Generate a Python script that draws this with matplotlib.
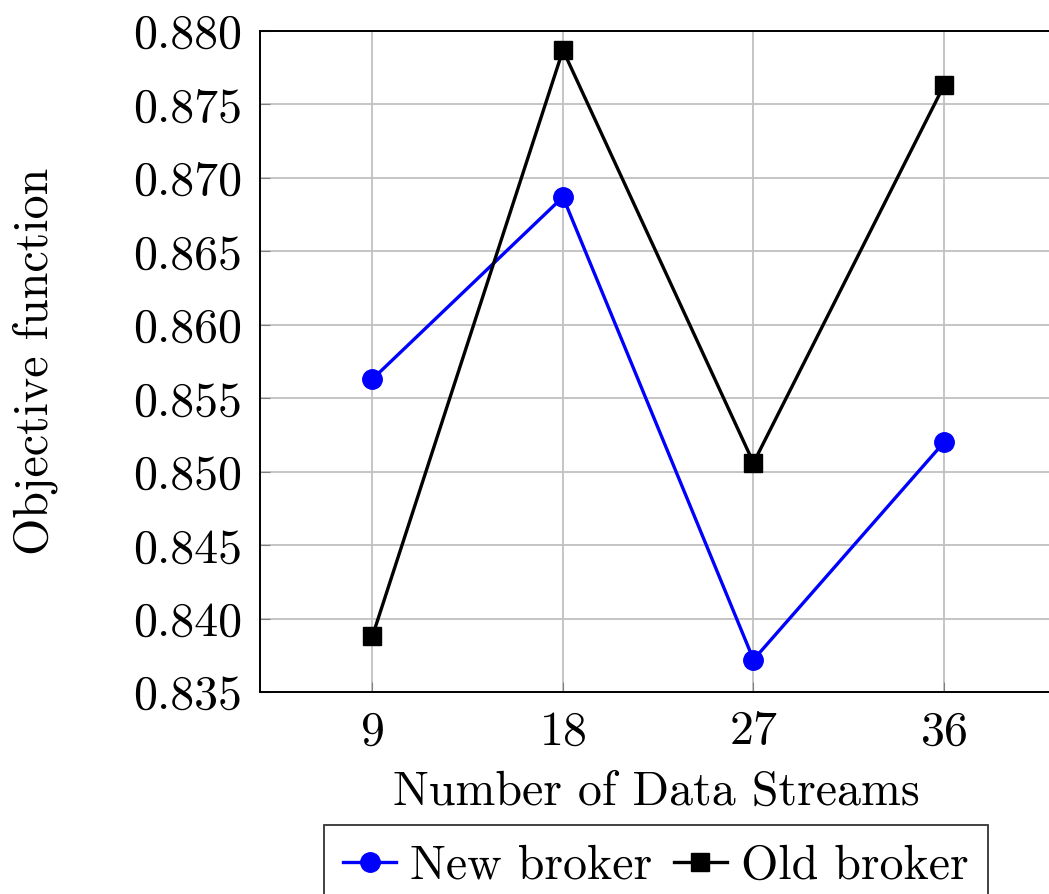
import matplotlib.pyplot as plt

plt.rcParams['font.family'] = 'cmr10'
plt.rcParams['axes.formatter.use_mathtext'] = True
plt.rcParams['mathtext.fontset'] = 'cm'

streams = [9, 18, 27, 36]
new_broker = [0.8563, 0.8687, 0.8372, 0.8520]
old_broker = [0.8388, 0.8787, 0.8506, 0.8763]
y_ticks = [0.835, 0.840, 0.845, 0.850, 0.855, 0.860, 0.865, 0.870, 0.875, 0.880]

fig = plt.figure(figsize=(10.49, 8.94), dpi=100)
ax = fig.add_axes([260 / 1049, 1 - 692 / 894, 792 / 1049, 661 / 894])

ax.plot(streams, new_broker, color='blue', lw=2.4, marker='o', ms=14, label='New broker')
ax.plot(streams, old_broker, color='black', lw=2.4, marker='s', ms=13, label='Old broker')

ax.set_xlim(3.69, 41.1)
ax.set_ylim(0.835, 0.880)
ax.set_xticks(streams)
ax.set_yticks(y_ticks)
ax.set_yticklabels([f'{v:.3f}' for v in y_ticks])
ax.grid(True, color='#c0c0c0', lw=1.3)
ax.set_axisbelow(True)
ax.tick_params(direction='in', length=7, color='#808080', labelsize=34.5, pad=13)
for s in ax.spines.values():
    s.set_linewidth(1.4)

ax.set_xlabel('Number of Data Streams', fontsize=34.5, labelpad=12)
ax.set_ylabel('Objective function', fontsize=34.5, labelpad=54)

# legend below the axes, bottom edge runs off the image like the original
leg = ax.legend(loc='upper center', bbox_to_anchor=(0.5, -0.165), ncol=2, fontsize=34.5,
                frameon=True, fancybox=False, edgecolor='black', handlelength=1.1,
                handletextpad=0.3, columnspacing=0.45, borderpad=0.4)
leg.get_frame().set_linewidth(1.3)

fig.savefig('out.png', dpi=100)
